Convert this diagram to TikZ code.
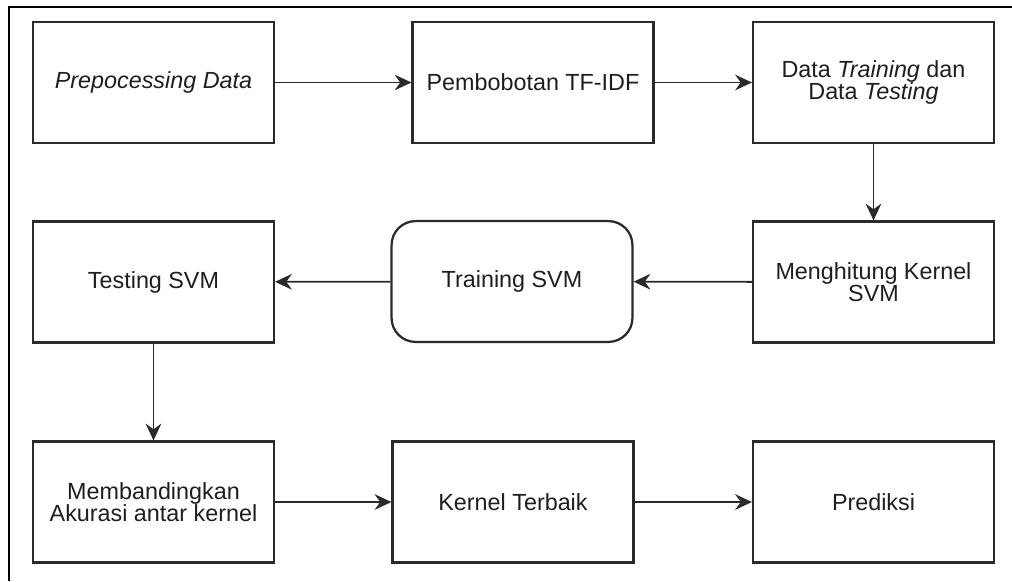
\documentclass[tikz,border=0pt]{standalone}
\usepackage{fontspec}
\setmainfont{Liberation Sans}
\usepackage{tikz}
\usetikzlibrary{shapes,arrows.meta,positioning,calc}
\definecolor{flowline}{HTML}{2A2A2A}
\definecolor{flowtext}{HTML}{1E1E1E}
\tikzstyle{box} = [draw=flowline, line width=1.6pt, rectangle, minimum width=6.02cm, minimum height=3.02cm, align=center, inner sep=0pt, text=flowtext, font=\fontsize{16.6}{15.9}\selectfont]
\tikzstyle{roundbox} = [box, rounded corners=0.6cm]
\tikzstyle{arrow} = [-{Stealth[length=4.2mm, width=3.9mm, inset=1.4mm]}, line width=1.3pt, flowline]

\begin{document}
\begin{tikzpicture}[x=0.025cm, y=-0.025cm]
\useasboundingbox (0,0) rectangle (1012,581);
% frame
\draw[line width=1.2pt, black] (9,581) -- (9,7) -- (1012,7);

% row 1
\node[box] (prepro) at (153.5,82.5) {\textit{Prepocessing Data}};
\node[box] (tfidf) at (533,82.5) {Pembobotan TF-IDF};
\node[box] (split) at (873.5,82.5) {Data \textit{Training} dan\\Data \textit{Testing}};
% row 2
\node[box] (kernel) at (873.5,282) {Menghitung Kernel\\SVM};
\node[roundbox] (train) at (512,281.5) {Training SVM};
\node[box] (test) at (153.5,282) {Testing SVM};
% row 3
\node[box] (compare) at (153.5,502) {Membandingkan\\Akurasi antar kernel};
\node[box] (best) at (513,502) {Kernel Terbaik};
\node[box] (predict) at (873.5,502) {Prediksi};

\draw[arrow] (prepro) -- (tfidf);
\draw[arrow] (tfidf) -- (split);
\draw[arrow] (split) -- (kernel);
\draw[arrow] (kernel) -- (train);
\draw[arrow] (train) -- (test);
\draw[arrow] (test) -- (compare);
\draw[arrow] (compare) -- (best);
\draw[arrow] (best) -- (predict);
\end{tikzpicture}
\end{document}
